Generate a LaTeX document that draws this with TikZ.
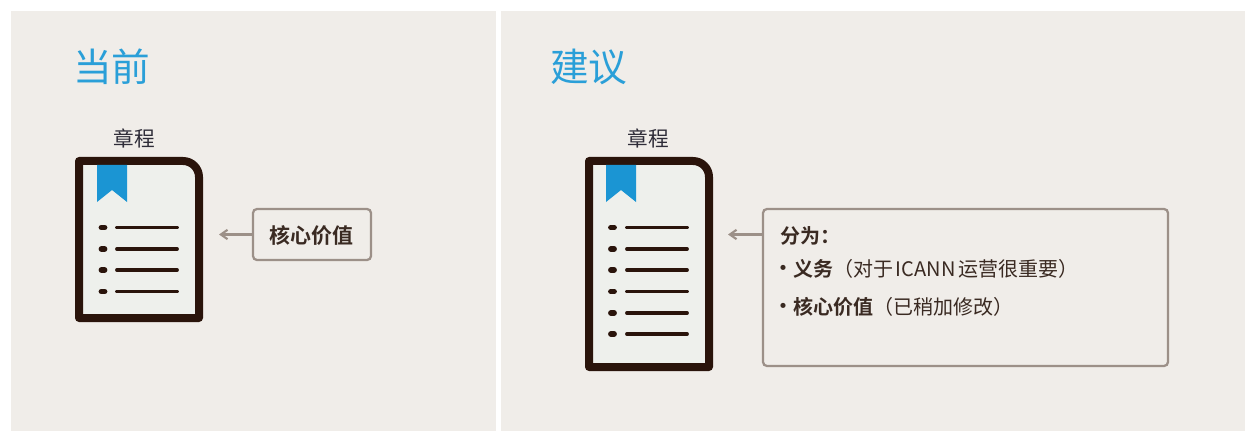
\documentclass[tikz,border=0pt]{standalone}
\usepackage{fontspec}
\setmainfont{Noto Sans CJK SC}
\newfontfamily\cjkbold{Noto Sans CJK SC Bold}
\usetikzlibrary{arrows.meta}
\definecolor{panelbg}{HTML}{F0EDE9}
\definecolor{pagefill}{HTML}{EEF0EC}
\definecolor{darkink}{HTML}{2A140B}
\definecolor{ribbon}{HTML}{1B95D3}
\definecolor{titleblue}{HTML}{2A9FD8}
\definecolor{boxline}{HTML}{9C9088}
\definecolor{bodytext}{HTML}{3A2A22}
\definecolor{labeltext}{HTML}{2E2C38}
\tikzset{
  x=0.75pt,y=-0.75pt,
  panel/.style={fill=panelbg,draw=none},
  docpage/.style={draw=darkink,fill=pagefill,line width=6pt,line join=round},
  ribbonmark/.style={fill=ribbon,draw=none},
  rowline/.style={draw=darkink,line width=2.9pt,line cap=round},
  rowdot/.style={draw=darkink,line width=4.4pt,line cap=round},
  callout/.style={draw=boxline,line width=1.7pt,rounded corners=3pt,fill=panelbg},
  pointer/.style={draw=boxline,line width=1.6pt,-{Straight Barb[length=5pt,width=7pt]}},
  heading/.style={text=titleblue,font=\fontsize{29pt}{31pt}\selectfont,anchor=west,inner sep=0pt},
  doclabel/.style={text=labeltext,font=\fontsize{15.5pt}{17pt}\selectfont,inner sep=0pt},
  bodyline/.style={text=bodytext,font=\fontsize{15pt}{17pt}\selectfont,anchor=west,inner sep=0pt},
  bulletmark/.style={text=bodytext,font=\cjkbold\fontsize{15pt}{17pt}\selectfont,inner sep=0pt},
}
\begin{document}
\begin{tikzpicture}
\useasboundingbox[fill=white] (0,0) rectangle (1245,431);
\fill[panel] (11,11) rectangle (496,431);
\fill[panel] (501,11) rectangle (1245,431);
% left
\node[heading] (t1) at (73,67) {当前};
\node[doclabel] (l1) at (134,138) {章程};
\draw[docpage] (79,161) -- (183,161) arc[start angle=-90,end angle=0,radius=16] -- (199,318) -- (79,318) -- cycle;
\fill[ribbonmark] (97,165) -- (127,165) -- (127,202) -- (112,190) -- (97,202) -- cycle;
\foreach \y in {227.5,249,270,291.5}{
  \draw[rowdot] (101.5,\y) -- (104.5,\y);
  \draw[rowline] (117,\y) -- (177,\y);
}
\node[callout,minimum width=118*0.75pt,minimum height=51*0.75pt,inner sep=0pt] (b1) at (312,234.5) {};
\node[text=bodytext,font=\cjkbold\fontsize{15.7pt}{17pt}\selectfont,inner sep=0pt] (v1) at (311.5,236) {核心价值};
\coordinate (a1) at (219,234.5);
\draw[pointer] (b1.west) -- (a1);
% right
\node[heading] (t2) at (550,67) {建议};
\node[doclabel] (l2) at (648,138) {章程};
\draw[docpage] (589,161) -- (693,161) arc[start angle=-90,end angle=0,radius=16] -- (709,367) -- (589,367) -- cycle;
\fill[ribbonmark] (606,165) -- (636,165) -- (636,202) -- (621,190) -- (606,202) -- cycle;
\foreach \y in {227.5,249,270,291.5,313,334}{
  \draw[rowdot] (611,\y) -- (614,\y);
  \draw[rowline] (627,\y) -- (687,\y);
}
\node[callout,minimum width=405*0.75pt,minimum height=157*0.75pt,inner sep=0pt] (b2) at (965.5,287.5) {};
\coordinate (a2) at (728,234.5);
\draw[pointer] (b2.west |- a2) -- (a2);
\node[bodyline] (p0) at (780,236) {{\cjkbold 分为：}};
\node[bulletmark] (d1) at (783.5,270) {•};
\node[bodyline] (p1) at (793,269) {{\cjkbold 义务}（对于\hspace{2pt}ICANN\hspace{2pt}运营很重要）};
\node[bulletmark] (d2) at (783.5,308) {•};
\node[bodyline] (p2) at (793,307) {{\cjkbold 核心价值}（已稍加修改）};
\end{tikzpicture}
\end{document}
